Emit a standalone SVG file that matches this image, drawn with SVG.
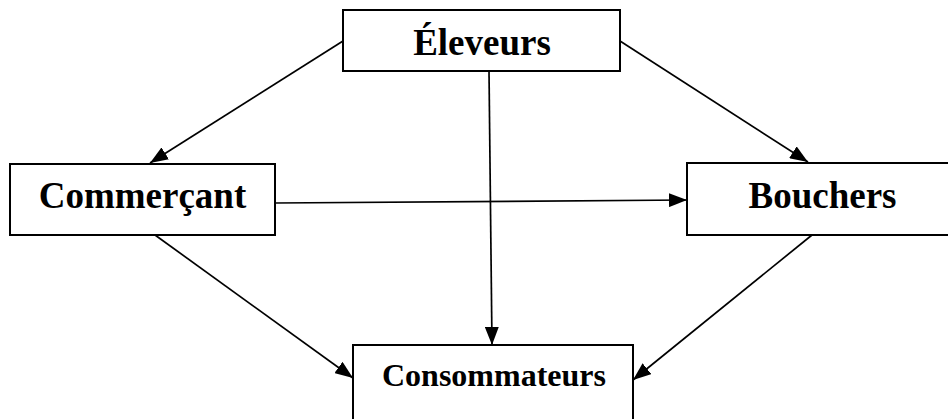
<svg xmlns="http://www.w3.org/2000/svg" width="948" height="419" viewBox="0 0 948 419">
<style>
.box{fill:#fff;stroke:#000;stroke-width:2}
.lbl{font-family:"Liberation Serif","Times New Roman",serif;font-weight:bold;fill:#000;text-anchor:middle}
.c{stroke:#000;stroke-width:1.7;fill:none;marker-end:url(#ah)}
</style>
<defs>
<marker id="ah" viewBox="0 0 18 14" refX="18" refY="7" markerWidth="18" markerHeight="14" markerUnits="userSpaceOnUse" orient="auto">
<path d="M0,0 L18,7 L0,14 Z" fill="#000"/>
</marker>
</defs>
<rect width="948" height="419" fill="#fff"/>
<g id="connectors">
<line class="c" x1="343" y1="41" x2="150" y2="163"/>
<line class="c" x1="620" y1="41" x2="808" y2="162"/>
<line class="c" x1="489" y1="71" x2="492" y2="345"/>
<line class="c" x1="275" y1="203" x2="687" y2="200"/>
<line class="c" x1="155" y1="235" x2="353" y2="378"/>
<line class="c" x1="812" y1="235" x2="633" y2="380"/>
</g>
<g id="eleveurs">
<rect class="box" x="343" y="10" width="277" height="61"/>
<text class="lbl" x="482" y="55" font-size="37">Éleveurs</text>
</g>
<g id="commercant">
<rect class="box" x="10" y="164" width="265" height="71"/>
<text class="lbl" x="142.5" y="208" font-size="37">Commerçant</text>
</g>
<g id="bouchers">
<rect class="box" x="687" y="163" width="275" height="72"/>
<text class="lbl" x="822.5" y="208" font-size="37">Bouchers</text>
</g>
<g id="consommateurs">
<rect class="box" x="353" y="345" width="280" height="90"/>
<text class="lbl" x="494" y="386" font-size="32">Consommateurs</text>
</g>
</svg>
